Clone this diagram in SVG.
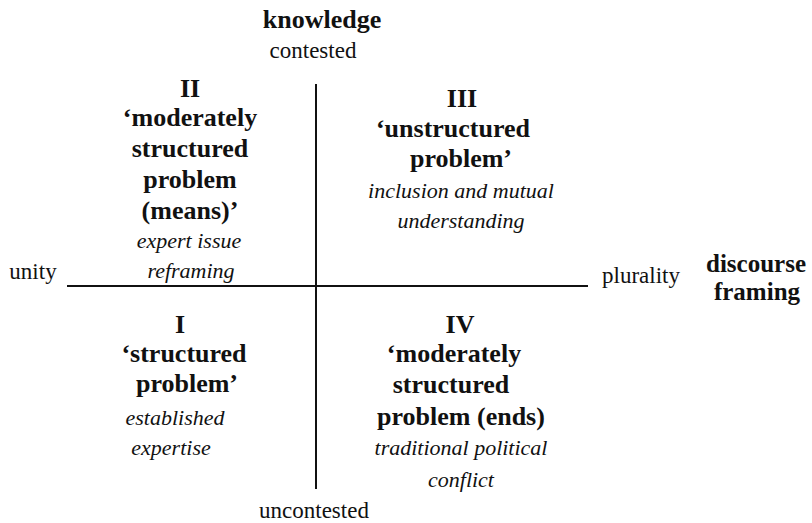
<svg xmlns="http://www.w3.org/2000/svg" width="812" height="523" viewBox="0 0 812 523">
  <style>
    text { font-family: "Liberation Serif", "Times New Roman", serif; fill: #111; text-anchor: middle; }
    .axis { font-size: 26px; font-weight: bold; }
    .axis-sm { font-size: 25px; font-weight: bold; }
    .pole { font-size: 23px; }
    .num { font-size: 26px; font-weight: bold; }
    .title { font-size: 26px; font-weight: bold; }
    .desc { font-size: 22px; font-style: italic; }
    .line { stroke: #111; stroke-width: 2; fill: none; }
  </style>
  <rect width="812" height="523" fill="#fff"/>

  <!-- axes -->
  <g id="connectors">
    <line class="line" x1="316" y1="84" x2="316" y2="489"/>
    <line class="line" x1="67" y1="286" x2="588" y2="286"/>
  </g>

  <!-- vertical axis labels -->
  <g id="axis-knowledge">
    <text class="axis" x="322" y="28">knowledge</text>
    <text class="pole" x="313" y="58">contested</text>
    <text class="pole" x="314" y="518">uncontested</text>
  </g>

  <!-- horizontal axis labels -->
  <g id="axis-discourse">
    <text class="pole" x="33" y="279">unity</text>
    <text class="pole" x="641" y="283">plurality</text>
    <text class="axis-sm" x="756" y="272">discourse</text>
    <text class="axis-sm" x="757" y="300">framing</text>
  </g>

  <!-- quadrant II -->
  <g id="quadrant-II">
    <text class="num" x="190" y="97">II</text>
    <text class="title" x="190" y="126">&#8216;moderately</text>
    <text class="title" x="190" y="157">structured</text>
    <text class="title" x="190" y="188">problem</text>
    <text class="title" x="190" y="219">(means)&#8217;</text>
    <text class="desc" x="189" y="248">expert issue</text>
    <text class="desc" x="191" y="278">reframing</text>
  </g>

  <!-- quadrant III -->
  <g id="quadrant-III">
    <text class="num" x="462" y="107">III</text>
    <text class="title" x="453" y="137">&#8216;unstructured</text>
    <text class="title" x="461" y="167">problem&#8217;</text>
    <text class="desc" x="461" y="198">inclusion and mutual</text>
    <text class="desc" x="461" y="228">understanding</text>
  </g>

  <!-- quadrant I -->
  <g id="quadrant-I">
    <text class="num" x="180" y="333">I</text>
    <text class="title" x="184" y="362">&#8216;structured</text>
    <text class="title" x="187" y="392">problem&#8217;</text>
    <text class="desc" x="175" y="425">established</text>
    <text class="desc" x="171" y="455">expertise</text>
  </g>

  <!-- quadrant IV -->
  <g id="quadrant-IV">
    <text class="num" x="460" y="333">IV</text>
    <text class="title" x="454" y="362">&#8216;moderately</text>
    <text class="title" x="451" y="393">structured</text>
    <text class="title" x="461" y="425">problem (ends)</text>
    <text class="desc" x="461" y="455">traditional political</text>
    <text class="desc" x="461" y="487">conflict</text>
  </g>
</svg>
